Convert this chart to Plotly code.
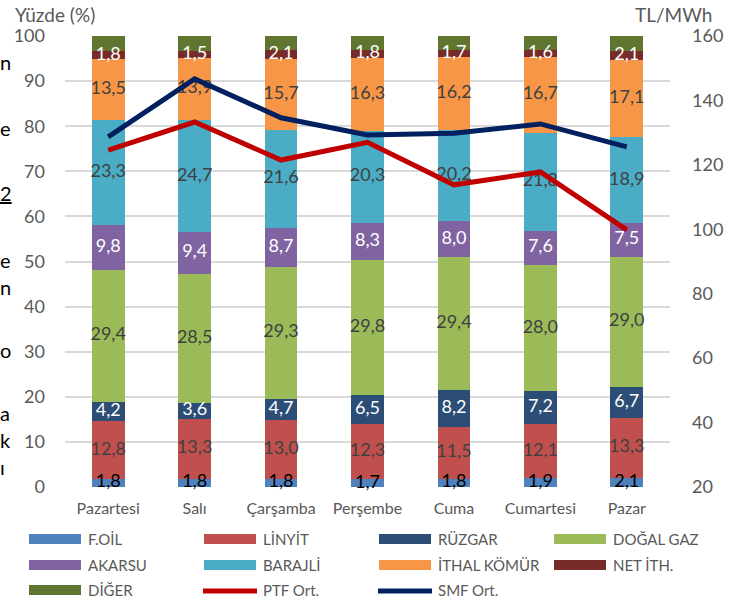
import plotly.graph_objects as go

days = ["Pazartesi", "Salı", "Çarşamba", "Perşembe", "Cuma", "Cumartesi", "Pazar"]

foil = [1.8, 1.8, 1.8, 1.7, 1.8, 1.9, 2.1]
linyit = [12.8, 13.3, 13.0, 12.3, 11.5, 12.1, 13.3]
ruzgar = [4.2, 3.6, 4.7, 6.5, 8.2, 7.2, 6.7]
dogalgaz = [29.4, 28.5, 29.3, 29.8, 29.4, 28.0, 29.0]
akarsu = [9.8, 9.4, 8.7, 8.3, 8.0, 7.6, 7.5]
barajli = [23.3, 24.7, 21.6, 20.3, 20.2, 21.8, 18.9]
ithal = [13.5, 13.9, 15.7, 16.3, 16.2, 16.7, 17.1]
netith = [1.8, 1.5, 2.1, 1.8, 1.7, 1.6, 2.1]
diger = [3.4, 3.3, 3.1, 3.0, 3.0, 3.1, 3.3]

ptf = [124.6, 133.3, 121.5, 127.0, 113.8, 117.8, 99.8]
smf = [128.7, 146.7, 134.6, 129.3, 129.8, 132.7, 125.6]

left_ticks = [0, 10, 20, 30, 40, 50, 60, 70, 80, 90, 100]
right_ticks = [20, 40, 60, 80, 100, 120, 140, 160]

FONT = "Lato"
GRAY = "#595959"
DARK = "#404040"

series = [
    ("F.OİL", foil, "#4F81BD", "#000000", True),
    ("LİNYİT", linyit, "#C0504D", DARK, True),
    ("RÜZGAR", ruzgar, "#2C4D75", "#FFFFFF", True),
    ("DOĞAL GAZ", dogalgaz, "#9BBB59", DARK, True),
    ("AKARSU", akarsu, "#8064A2", "#FFFFFF", True),
    ("BARAJLİ", barajli, "#4BACC6", DARK, True),
    ("İTHAL KÖMÜR", ithal, "#F79646", DARK, True),
    ("NET İTH.", netith, "#772C2A", "#FFFFFF", True),
    ("DİĞER", diger, "#5F7530", "#FFFFFF", False),
]
lines = [("PTF Ort.", ptf, "#C00000"), ("SMF Ort.", smf, "#002060")]

fig = go.Figure()
for name, vals, color, tcolor, show in series:
    fig.add_trace(go.Bar(
        x=days, y=vals, name=name, marker=dict(color=color, line=dict(width=0)),
        showlegend=False, hoverinfo="skip",
    ))

# data labels at the middle of each stacked segment
base = [0.0] * len(days)
for name, vals, color, tcolor, show in series:
    mids = [b + v / 2 for b, v in zip(base, vals)]
    base = [b + v for b, v in zip(base, vals)]
    if not show:
        continue
    fig.add_trace(go.Scatter(
        x=days, y=mids, mode="text", text=[f"{v:.1f}".replace(".", ",") for v in vals],
        textposition="middle center", cliponaxis=False,
        textfont=dict(family=FONT, size=18, color=tcolor),
        showlegend=False, hoverinfo="skip",
    ))

for name, vals, color in lines:
    fig.add_trace(go.Scatter(
        x=days, y=vals, name=name, yaxis="y2", mode="lines",
        line=dict(color=color, width=5), showlegend=False, hoverinfo="skip",
    ))

# plot area in pixels
L, R, T, B = 65, 670, 36, 487
W, H = 742, 599


def px(p):
    return (p - L) / (R - L)


def py(p):
    return (B - p) / (B - T)


shapes = []
annotations = []
legend_items = [(n, c, "bar") for n, _, c, _, _ in series] + [(n, c, "line") for n, _, c in lines]
col_sym = [29, 204, 379, 554]
col_txt = [87, 262, 437, 612]
row_y = [539, 565, 590]
for i, (name, color, kind) in enumerate(legend_items):
    c = i % 4
    cy = row_y[i // 4]
    sx = col_sym[c]
    if kind == "bar":
        shapes.append(dict(type="rect", xref="paper", yref="paper",
                           x0=px(sx), x1=px(sx + 52), y0=py(cy - 5), y1=py(cy + 5),
                           fillcolor=color, line=dict(width=0)))
    else:
        shapes.append(dict(type="line", xref="paper", yref="paper",
                           x0=px(sx - 1), x1=px(sx + 53), y0=py(cy + 1), y1=py(cy + 1),
                           line=dict(color=color, width=5)))
    annotations.append(dict(text=name, xref="paper", yref="paper", x=px(col_txt[c] - 1), y=py(cy),
                            xanchor="left", yanchor="middle", showarrow=False,
                            font=dict(family=FONT, size=15, color=GRAY)))

annotations.append(dict(text="Yüzde (%)", xref="paper", yref="paper", x=px(13), y=py(15),
                        xanchor="left", yanchor="middle", showarrow=False,
                        font=dict(family=FONT, size=19, color=GRAY)))
annotations.append(dict(text="TL/MWh", xref="paper", yref="paper", x=px(714), y=py(15),
                        xanchor="right", yanchor="middle", showarrow=False,
                        font=dict(family=FONT, size=19, color=GRAY)))

# fragments of surrounding document text at left edge
frags = [("n", 62), ("e", 128), ("<u>2</u>", 193), ("e", 260), ("n", 287), ("o", 350),
         ("a", 413), ("k", 440), ("ı", 467)]
for t, yy in frags:
    annotations.append(dict(text=t, xref="paper", yref="paper", x=px(-2), y=py(yy),
                            xanchor="left", yanchor="middle", showarrow=False,
                            font=dict(family=FONT, size=20, color="#000000")))

fig.update_layout(
    width=W, height=H, barmode="stack", bargap=0.62,
    margin=dict(l=L, r=W - R, t=T, b=H - B),
    paper_bgcolor="white", plot_bgcolor="white",
    separators=",.",
    font=dict(family=FONT, color=GRAY),
    xaxis=dict(tickfont=dict(family=FONT, size=16, color=GRAY), showline=False,
               ticks="", ticklabelstandoff=10),
    yaxis=dict(range=[0, 100], tickvals=left_ticks, showgrid=True, gridcolor="#D9D9D9",
               gridwidth=1.5, zeroline=False, tickfont=dict(family=FONT, size=18, color=GRAY),
               ticklabelstandoff=19),
    yaxis2=dict(range=[20, 160], tickvals=right_ticks, overlaying="y", side="right",
                showgrid=False, zeroline=False, tickfont=dict(family=FONT, size=18, color=GRAY),
                ticklabelstandoff=21),
    shapes=shapes, annotations=annotations,
)

fig.write_html("out.html", config={"displayModeBar": False},
               post_script="document.body.style.margin='0';document.body.style.overflow='hidden';")
